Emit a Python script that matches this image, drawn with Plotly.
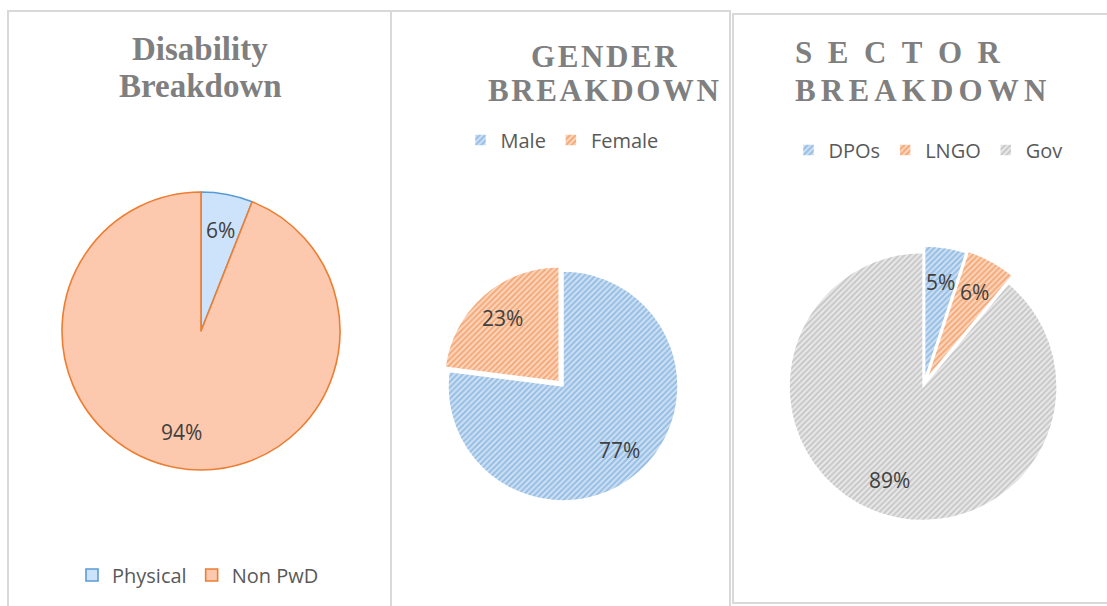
import math
import plotly.graph_objects as go

W, H = 1107, 606

# ---- data ----
dis_labels = ["Physical", "Non PwD"]
dis_values = [6, 94]
gen_labels = ["Male", "Female"]
gen_values = [77, 23]
sec_labels = ["DPOs", "LNGO", "Gov"]
sec_values = [5, 6, 89]

def px_x(x):
    return x / W

def px_y(y):
    return 1 - y / H

def dom(cx, cy, half):
    return dict(x=[px_x(cx - half), px_x(cx + half)], y=[px_y(cy + half), px_y(cy - half)])

LABEL_FONT = dict(family="Open Sans", size=21, color="#404040")

def pct_labels(values, cx, cy, r, pulls, factor=0.74):
    """Percent label positions derived from the slice angles (clockwise from 12 o'clock)."""
    total = float(sum(values))
    out = []
    cum = 0.0
    for v, p in zip(values, pulls):
        mid = math.radians((cum + v / 2.0) / total * 360.0)
        cum += v
        d = r * (factor + p)
        out.append(dict(text=f"{round(v / total * 100)}%", x=px_x(cx + math.sin(mid) * d),
                        y=px_y(cy - math.cos(mid) * d), xref="paper", yref="paper",
                        xanchor="center", yanchor="middle", showarrow=False, font=LABEL_FONT))
    return out

fig = go.Figure()

# Pie 1 - Disability
C1 = (201, 331, 139)
p1 = [0, 0]
fig.add_trace(go.Pie(
    labels=dis_labels, values=dis_values, sort=False, direction="clockwise", rotation=0,
    domain=dom(C1[0], C1[1], C1[2]),
    marker=dict(colors=["#cde3fb", "#fcc9ae"], line=dict(color=["#5b9bd5", "#ed7d31"], width=1.6)),
    textinfo="none", legend="legend", hoverinfo="label+percent",
))

# Pie 2 - Gender
C2 = (563, 386, 115)
p2 = [0, 0.05]
fig.add_trace(go.Pie(
    labels=gen_labels, values=gen_values, sort=False, direction="clockwise", rotation=0,
    pull=p2, domain=dom(C2[0], C2[1], C2[2] * (1 + max(p2))),
    marker=dict(colors=["#cfe0f3", "#fbd6bf"], line=dict(color="white", width=1.5),
                pattern=dict(shape=["/", "/"], fgcolor=["#5b9bd5", "#ed7d31"], fillmode="overlay",
                             size=4, solidity=0.5)),
    textinfo="none", legend="legend2", hoverinfo="label+percent",
))

# Pie 3 - Sector
C3 = (924, 384, 134)
p3 = [0.03, 0.045, 0.02]
fig.add_trace(go.Pie(
    labels=sec_labels, values=sec_values, sort=False, direction="clockwise", rotation=0,
    pull=p3, domain=dom(C3[0], C3[1], C3[2] * (1 + max(p3))),
    marker=dict(colors=["#cfe0f3", "#fbd6bf", "#e9e9e9"], line=dict(color="white", width=1.5),
                pattern=dict(shape=["/", "/", "/"], fgcolor=["#5b9bd5", "#ed7d31", "#a5a5a5"],
                             fillmode="overlay", size=4, solidity=0.5)),
    textinfo="none", legend="legend3", hoverinfo="label+percent",
))

LEG_FONT = dict(family="Open Sans", size=20, color="#595959")

def leg(cx, cy):
    return dict(orientation="h", x=px_x(cx), y=px_y(cy), xanchor="center", yanchor="middle",
                font=LEG_FONT, bgcolor="rgba(0,0,0,0)", itemwidth=30, traceorder="normal")

# panel borders
BORDER = dict(color="#d9d9d9", width=2)
shapes = [
    dict(type="rect", xref="paper", yref="paper", x0=px_x(8), x1=px_x(391), y0=px_y(620), y1=px_y(11), line=BORDER),
    dict(type="rect", xref="paper", yref="paper", x0=px_x(391), x1=px_x(730), y0=px_y(620), y1=px_y(11), line=BORDER),
    dict(type="rect", xref="paper", yref="paper", x0=px_x(733), x1=px_x(1120), y0=px_y(603), y1=px_y(14), line=BORDER),
]

TITLE_FONT = dict(family="Liberation Serif", size=31, color="#7f7f7f")
HS = "\u200a"   # hair space
SIX = "\u2006"  # six-per-em space
EN = "\u2002"   # en space

def spaced(word, sep):
    return "<b>" + sep.join(word) + "</b>"

titles = [
    dict(text="<b>Disability</b>", x=px_x(200), y=px_y(49), font=dict(TITLE_FONT, size=33)),
    dict(text="<b>Breakdown</b>", x=px_x(200), y=px_y(86), font=dict(TITLE_FONT, size=33)),
    dict(text=spaced("GENDER", HS), x=px_x(604), y=px_y(56), font=TITLE_FONT),
    dict(text=spaced("BREAKDOWN", HS), x=px_x(603), y=px_y(90), font=TITLE_FONT),
    dict(text=spaced("SECTOR", EN), x=px_x(898), y=px_y(52), font=TITLE_FONT),
    dict(text=spaced("BREAKDOWN", SIX), x=px_x(920), y=px_y(90), font=TITLE_FONT),
]
for a in titles:
    a.update(xref="paper", yref="paper", xanchor="center", yanchor="middle", showarrow=False)

annotations = titles
annotations += pct_labels(dis_values, C1[0], C1[1], C1[2], p1)
annotations += pct_labels(gen_values, C2[0], C2[1], C2[2], p2)
annotations += pct_labels(sec_values, C3[0], C3[1], C3[2], p3)

fig.update_layout(
    width=W, height=H, margin=dict(l=0, r=0, t=0, b=0),
    paper_bgcolor="white", plot_bgcolor="white",
    showlegend=True,
    legend=leg(198, 575), legend2=leg(562, 140), legend3=leg(928, 150),
    shapes=shapes, annotations=annotations,
)

fig.write_html("out.html", config={"displayModeBar": False},
               post_script="document.body.style.margin='0';")
